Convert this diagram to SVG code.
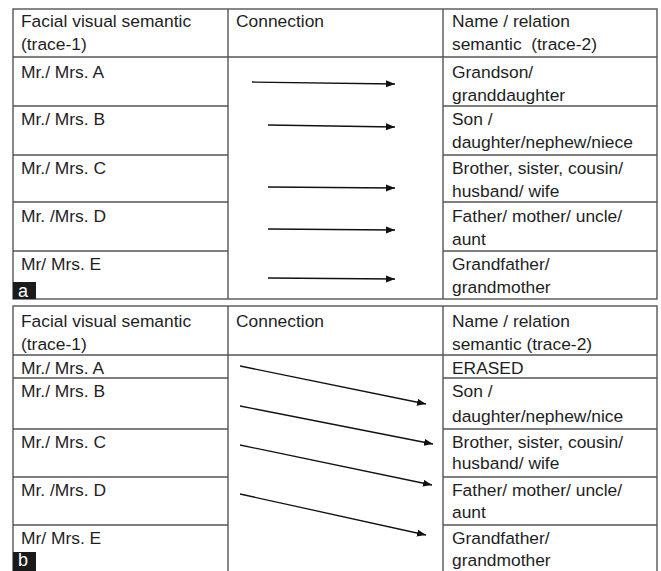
<svg xmlns="http://www.w3.org/2000/svg" width="661" height="571" viewBox="0 0 661 571">
<style>
.grid{stroke:#555;stroke-width:1.4;fill:none}
.t{font-family:"Liberation Sans",Arial,sans-serif;font-size:17.4px;fill:#1e1e1e}
.lbl{font-family:"Liberation Sans",Arial,sans-serif;font-size:18px;fill:#fff}
.arr{stroke:#111;stroke-width:1.3;fill:none;marker-end:url(#ah)}
</style>
<defs>
<marker id="ah" markerUnits="userSpaceOnUse" markerWidth="10" markerHeight="8" refX="9" refY="3.5" orient="auto">
<path d="M0,0 L9,3.5 L0,7 Z" fill="#111"/>
</marker>
</defs>
<rect width="661" height="571" fill="#fff"/>

<!-- Table a grid -->
<g id="table-a-grid" class="grid">
<rect x="13" y="9" width="644" height="290"/>
<line x1="228" y1="9" x2="228" y2="299"/>
<line x1="443" y1="9" x2="443" y2="299"/>
<line x1="13" y1="57" x2="657" y2="57"/>
<line x1="13" y1="106" x2="228" y2="106"/><line x1="443" y1="106" x2="657" y2="106"/>
<line x1="13" y1="155" x2="228" y2="155"/><line x1="443" y1="155" x2="657" y2="155"/>
<line x1="13" y1="202" x2="228" y2="202"/><line x1="443" y1="202" x2="657" y2="202"/>
<line x1="13" y1="251" x2="228" y2="251"/><line x1="443" y1="251" x2="657" y2="251"/>
</g>

<!-- Table b grid -->
<g id="table-b-grid" class="grid">
<rect x="13" y="306" width="644" height="270"/>
<line x1="228" y1="306" x2="228" y2="576"/>
<line x1="443" y1="306" x2="443" y2="576"/>
<line x1="13" y1="355" x2="657" y2="355"/>
<line x1="13" y1="378" x2="228" y2="378"/><line x1="443" y1="378" x2="657" y2="378"/>
<line x1="13" y1="429" x2="228" y2="429"/><line x1="443" y1="429" x2="657" y2="429"/>
<line x1="13" y1="477" x2="228" y2="477"/><line x1="443" y1="477" x2="657" y2="477"/>
<line x1="13" y1="525" x2="228" y2="525"/><line x1="443" y1="525" x2="657" y2="525"/>
</g>

<!-- Table a cells -->
<g id="a-h1"><text class="t" x="21" y="27">Facial visual semantic</text><text class="t" x="21" y="50">(trace-1)</text></g>
<g id="a-h2"><text class="t" x="236" y="27">Connection</text></g>
<g id="a-h3"><text class="t" x="452" y="27">Name / relation</text><text class="t" x="452" y="50">semantic&#160; (trace-2)</text></g>
<g id="a-l1"><text class="t" x="21" y="78">Mr./ Mrs. A</text></g>
<g id="a-l2"><text class="t" x="21" y="125">Mr./ Mrs. B</text></g>
<g id="a-l3"><text class="t" x="21" y="174">Mr./ Mrs. C</text></g>
<g id="a-l4"><text class="t" x="21" y="222">Mr. /Mrs. D</text></g>
<g id="a-l5"><text class="t" x="21" y="270">Mr/ Mrs. E</text></g>
<g id="a-r1"><text class="t" x="452" y="78">Grandson/</text><text class="t" x="452" y="101">granddaughter</text></g>
<g id="a-r2"><text class="t" x="452" y="125">Son /</text><text class="t" x="452" y="148">daughter/nephew/niece</text></g>
<g id="a-r3"><text class="t" x="452" y="174">Brother, sister, cousin/</text><text class="t" x="452" y="197">husband/ wife</text></g>
<g id="a-r4"><text class="t" x="452" y="222">Father/ mother/ uncle/</text><text class="t" x="452" y="245">aunt</text></g>
<g id="a-r5"><text class="t" x="452" y="270">Grandfather/</text><text class="t" x="452" y="293">grandmother</text></g>
<g id="a-label"><rect x="13" y="282" width="23" height="17" fill="#1a1a1a"/><text class="lbl" x="18" y="297">a</text></g>

<!-- Table b cells -->
<g id="b-h1"><text class="t" x="21" y="327">Facial visual semantic</text><text class="t" x="21" y="350">(trace-1)</text></g>
<g id="b-h2"><text class="t" x="236" y="327">Connection</text></g>
<g id="b-h3"><text class="t" x="452" y="327">Name / relation</text><text class="t" x="452" y="350">semantic (trace-2)</text></g>
<g id="b-l1"><text class="t" x="21" y="374">Mr./ Mrs. A</text></g>
<g id="b-l2"><text class="t" x="21" y="397">Mr./ Mrs. B</text></g>
<g id="b-l3"><text class="t" x="21" y="448">Mr./ Mrs. C</text></g>
<g id="b-l4"><text class="t" x="21" y="496">Mr. /Mrs. D</text></g>
<g id="b-l5"><text class="t" x="21" y="544">Mr/ Mrs. E</text></g>
<g id="b-r1"><text class="t" x="452" y="374">ERASED</text></g>
<g id="b-r2"><text class="t" x="452" y="397">Son /</text><text class="t" x="452" y="422">daughter/nephew/nice</text></g>
<g id="b-r3"><text class="t" x="452" y="448">Brother, sister, cousin/</text><text class="t" x="452" y="469">husband/ wife</text></g>
<g id="b-r4"><text class="t" x="452" y="496">Father/ mother/ uncle/</text><text class="t" x="452" y="518">aunt</text></g>
<g id="b-r5"><text class="t" x="452" y="544">Grandfather/</text><text class="t" x="452" y="566">grandmother</text></g>
<g id="b-label"><rect x="13" y="552" width="23" height="19" fill="#1a1a1a"/><text class="lbl" x="18" y="566">b</text></g>

<!-- Connectors -->
<g id="connectors">
<line class="arr" x1="252" y1="82" x2="395" y2="84"/>
<line class="arr" x1="268" y1="125" x2="395" y2="127"/>
<line class="arr" x1="268" y1="187" x2="395" y2="188"/>
<line class="arr" x1="268" y1="229" x2="395" y2="230"/>
<line class="arr" x1="268" y1="278" x2="395" y2="279"/>
<line class="arr" x1="240" y1="366" x2="426" y2="404"/>
<line class="arr" x1="240" y1="406" x2="433" y2="444"/>
<line class="arr" x1="240" y1="445" x2="432" y2="485"/>
<line class="arr" x1="240" y1="494" x2="426" y2="535"/>
</g>
</svg>
